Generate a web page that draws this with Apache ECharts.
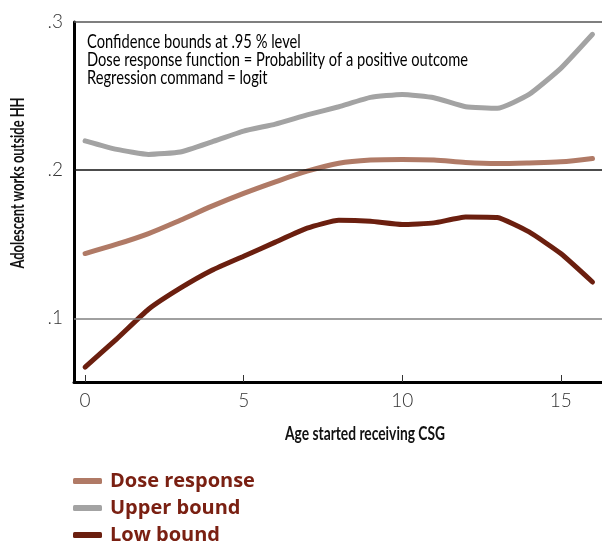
<!DOCTYPE html>
<html>
<head>
<meta charset="utf-8">
<script src="https://cdn.jsdelivr.net/npm/echarts@6/dist/echarts.min.js"></script>
<style>html,body{margin:0;padding:0;background:#fff}#c{width:602px;height:548px}</style>
</head>
<body>
<div id="c"></div>
<script>
var ages = [0,1,2,3,4,5,6,7,8,9,10,11,12,13,14,15,16];
var doseResponse = [0.1437,0.1500,0.1572,0.1662,0.1757,0.1843,0.1921,0.1993,0.2047,0.2068,0.2072,0.2068,0.2052,0.2045,0.2049,0.2056,0.2079];
var upperBound = [0.2198,0.2140,0.2106,0.2122,0.2191,0.2264,0.2311,0.2373,0.2428,0.2491,0.2511,0.2489,0.2428,0.2417,0.2511,0.2687,0.2917];
var lowBound = [0.0671,0.0861,0.1061,0.1203,0.1324,0.1419,0.1514,0.1608,0.1662,0.1655,0.1633,0.1644,0.1684,0.1680,0.1583,0.1437,0.1245];
var xTicks = [0,5,10,15];
var yTicks = [0.1,0.2,0.3];
var seriesNames = ['Dose response','Upper bound','Low bound'];
var noteLines = ['Confidence bounds at .95 % level','Dose response function = Probability of a positive outcome','Regression command = logit'];
var xTitle = 'Age started receiving CSG';
var yTitle = 'Adolescent works outside HH';

function pairs(v){return ages.map(function(a,i){return [a,v[i]];});}
var ctx = document.createElement('canvas').getContext('2d');
function textWidth(str, font){ctx.font = font; return ctx.measureText(str).width;}

var colors = ['#b07a66','#a3a3a3','#6b1f0f'];
var gridColors = ['#808080','#111111','#555555'];

var noteFont = '19px Lato';
var noteScale = 381 / textWidth(noteLines[1], noteFont);
var titleFont = 'bold 18px Lato';
var xTitleScale = 160 / textWidth(xTitle, titleFont);
var yTitleScale = 171 / textWidth(yTitle, titleFont);

var chart = echarts.init(document.getElementById('c'));
chart.setOption({
  animation:false,
  grid:{left:74,right:0,top:22,bottom:166},
  xAxis:{type:'value',min:-0.35,max:16.3,
    axisLine:{show:true,onZero:false,lineStyle:{color:'#000',width:3}},
    axisTick:{show:true,inside:true,length:7,customValues:xTicks,lineStyle:{color:'#333',width:1}},
    axisLabel:{customValues:xTicks,margin:9,fontFamily:'Lato',fontWeight:300,fontSize:19,color:'#333'},
    splitLine:{show:false}},
  yAxis:{type:'value',min:0.057,max:0.3,
    axisLine:{show:true,onZero:false,lineStyle:{color:'#000',width:3}},
    axisTick:{show:false},
    axisLabel:{customValues:yTicks,margin:11,fontFamily:'Lato',fontWeight:300,fontSize:19,color:'#333',
      formatter:function(v){return String(v).replace(/^0/,'');}},
    splitLine:{show:false}},
  legend:{data:seriesNames,orient:'vertical',left:73,top:471,padding:0,itemGap:7,itemWidth:29,itemHeight:6,icon:'roundRect',
    textStyle:{fontFamily:'"Open Sans"',fontWeight:'bold',fontSize:20,color:'#7a2012',lineHeight:20,padding:[0,0,0,3]}},
  graphic:[
    {type:'text',x:87,y:33,scaleX:noteScale,silent:true,
      style:{text:noteLines.join('\n'),font:noteFont,fill:'#000',lineHeight:18,align:'left',verticalAlign:'top'}},
    {type:'text',x:365,y:434,scaleX:xTitleScale,silent:true,
      style:{text:xTitle,font:titleFont,fill:'#111',align:'center',verticalAlign:'middle'}},
    {type:'text',x:18,y:183,rotation:Math.PI/2,scaleX:yTitleScale,silent:true,
      style:{text:yTitle,font:titleFont,fill:'#111',align:'center',verticalAlign:'middle'}}
  ],
  series:[
    {name:'grid',type:'line',data:[],silent:true,z:1,
      markLine:{silent:true,symbol:'none',label:{show:false},animation:false,
        data:yTicks.map(function(t,i){return {yAxis:t,lineStyle:{color:gridColors[i],width:1.5,type:'solid'}};})}},
    {name:seriesNames[0],type:'line',data:pairs(doseResponse),smooth:0.3,showSymbol:false,z:3,
      lineStyle:{color:colors[0],width:5,cap:'round'},itemStyle:{color:colors[0]}},
    {name:seriesNames[1],type:'line',data:pairs(upperBound),smooth:0.15,showSymbol:false,z:3,
      lineStyle:{color:colors[1],width:5,cap:'round'},itemStyle:{color:colors[1]}},
    {name:seriesNames[2],type:'line',data:pairs(lowBound),smooth:0.15,showSymbol:false,z:3,
      lineStyle:{color:colors[2],width:5,cap:'round'},itemStyle:{color:colors[2]}}
  ]
});
</script>
</body>
</html>
